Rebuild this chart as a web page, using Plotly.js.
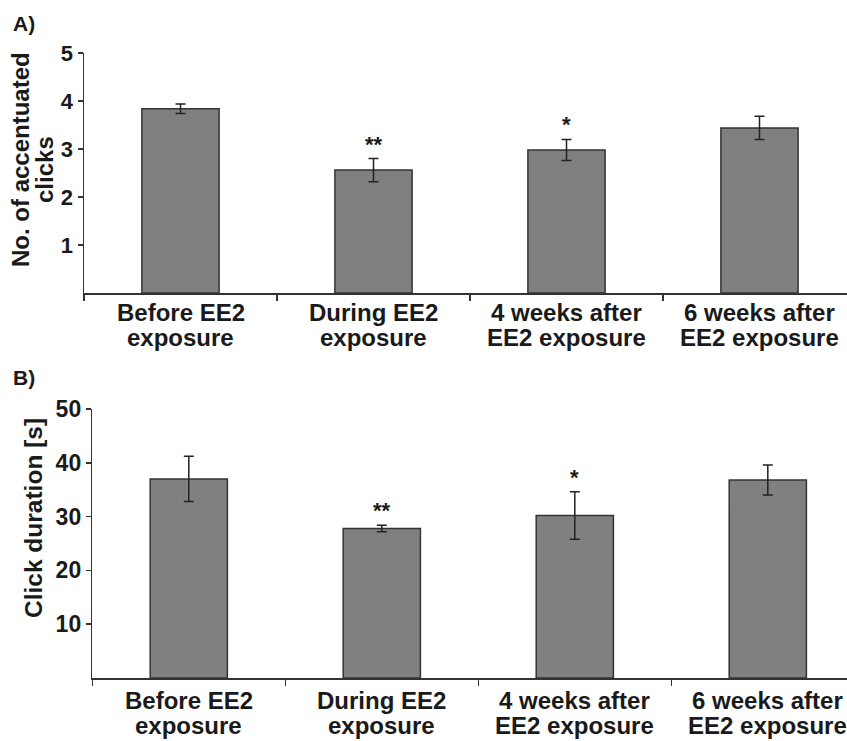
<!DOCTYPE html>
<html>
<head>
<meta charset="utf-8">
<script src="https://cdn.plot.ly/plotly-3.0.1.min.js"></script>
<style>html,body{margin:0;padding:0;background:#fff;}#chart{width:847px;height:741px;}</style>
</head>
<body>
<div id="chart"></div>
<script>
const categories = ["Before EE2<br>exposure", "During EE2<br>exposure", "4 weeks after<br>EE2 exposure", "6 weeks after<br>EE2 exposure"];
const clicksMean = [3.84, 2.56, 2.98, 3.44];
const clicksErr = [0.10, 0.24, 0.22, 0.24];
const clicksSig = ["", "**", "*", ""];
const durMean = [37.0, 27.8, 30.2, 36.8];
const durErr = [4.2, 0.6, 4.4, 2.8];
const durSig = ["", "**", "*", ""];
const yTicksA = [1, 2, 3, 4, 5];
const yTicksB = [10, 20, 30, 40, 50];

const W = 847, H = 741;
const FONT = "Liberation Sans, Arial, sans-serif";
const INK = "#1a1a1a";
const py = p => (H - p) / H;
const px = p => p / W;

function barTrace(y, err, xa, ya) {
  return {
    type: "bar", x: categories, y: y, xaxis: xa, yaxis: ya, width: 0.4,
    marker: {color: "#808080", line: {color: "#333", width: 1.5}},
    error_y: {type: "data", array: err, visible: true, color: "#222", thickness: 1.5, width: 5},
    hoverinfo: "skip", showlegend: false
  };
}

const axisX = (dom, rng, anchor) => ({
  type: "category", categoryarray: categories, categoryorder: "array",
  domain: dom, range: rng, anchor: anchor,
  showline: true, linecolor: "#333", linewidth: 1.5,
  ticks: "outside", tickson: "boundaries", ticklen: 6, tickcolor: "#333", tickwidth: 1.5,
  showticklabels: false, showgrid: false, zeroline: false, fixedrange: true
});
const axisY = (dom, rng, tv, anchor, fs) => ({
  domain: dom, range: rng, anchor: anchor, tickvals: tv,
  showline: true, linecolor: "#333", linewidth: 1.5,
  ticks: "outside", ticklen: 5, tickcolor: "#333", tickwidth: 1.5,
  tickfont: {family: FONT, size: fs, color: INK, weight: "bold"},
  showgrid: false, zeroline: false, fixedrange: true
});

const annotations = [];
const txt = (text, x, y, size, extra) => Object.assign({
  text: text, x: x, y: y, xref: "paper", yref: "paper", showarrow: false,
  font: {family: FONT, size: size, color: INK, weight: "bold"},
  xanchor: "center", yanchor: "middle", borderpad: 0
}, extra || {});

// panel letters
annotations.push(txt("A)", px(24), py(24), 21));
annotations.push(txt("B)", px(24), py(377), 21));
// y titles
annotations.push(txt("No. of accentuated", px(20), py(160), 24, {textangle: -90}));
annotations.push(txt("clicks", px(45), py(170), 24, {textangle: -90}));
annotations.push(txt("Click duration [s]", px(33), py(518), 24.5, {textangle: -90}));

// category labels (two lines each, tight spacing)
categories.forEach(function (c) {
  const parts = c.split("<br>");
  annotations.push(txt(parts[0], c, py(312.6), 24, {xref: "x"}));
  annotations.push(txt(parts[1], c, py(337.6), 24, {xref: "x"}));
  annotations.push(txt(parts[0], c, py(700), 24, {xref: "x2"}));
  annotations.push(txt(parts[1], c, py(725), 24, {xref: "x2"}));
});

// significance stars
categories.forEach(function (c, i) {
  if (clicksSig[i]) annotations.push({
    text: clicksSig[i], x: c, y: clicksMean[i] + clicksErr[i], xref: "x", yref: "y",
    showarrow: false, xanchor: "center", yanchor: "bottom",
    font: {family: FONT, size: 22, color: INK, weight: "bold"}
  });
  if (durSig[i]) annotations.push({
    text: durSig[i], x: c, y: durMean[i] + durErr[i], xref: "x2", yref: "y2",
    showarrow: false, xanchor: "center", yanchor: "bottom",
    font: {family: FONT, size: 22, color: INK, weight: "bold"}
  });
});

const layout = {
  width: W, height: H,
  margin: {l: 0, r: 0, t: 0, b: 0},
  paper_bgcolor: "#fff", plot_bgcolor: "#fff",
  bargap: 0.6,
  xaxis: axisX([px(84), 1], [-0.5, (W - 180.5) / 193], "y"),
  yaxis: axisY([py(293), py(53)], [0, 5], yTicksA, "x", 22),
  xaxis2: axisX([px(92.3), 1], [-0.5, (W - 188.8) / 193], "y2"),
  yaxis2: axisY([py(678), py(409)], [0, 50], yTicksB, "x2", 23),
  annotations: annotations,
  showlegend: false
};

Plotly.newPlot("chart", [
  barTrace(clicksMean, clicksErr, "x", "y"),
  barTrace(durMean, durErr, "x2", "y2")
], layout, {staticPlot: true, displayModeBar: false});
</script>
</body>
</html>
